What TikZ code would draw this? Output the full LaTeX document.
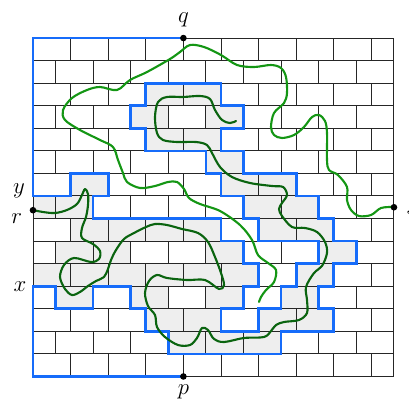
\documentclass[tikz,border=0pt]{standalone}
\usetikzlibrary{calc}
\definecolor{bndblue}{RGB}{22,108,250}
\definecolor{lgreen}{RGB}{20,150,20}
\definecolor{dgreen}{RGB}{10,100,15}
\definecolor{slabgrey}{RGB}{238,238,238}
\begin{document}
\begin{tikzpicture}[x=0.2cm, y=-0.6cm,
    joint/.style={draw=black!85, line width=0.75pt},
    slab/.style={fill=slabgrey},
    bound/.style={draw=bndblue, line width=2pt, line join=miter},
    walk/.style={line width=1.6pt, line cap=round, line join=round},
    pt/.style={circle, fill=black, inner sep=0pt, minimum size=5pt},
    lbl/.style={font=\fontsize{18}{20}\selectfont, inner sep=0pt},
]
\useasboundingbox (-4.388,-1.687) rectangle (50.0,16.04);
% grey bricks: row/left/right
\foreach \r/\a/\b in {2/15/25, 3/13/18, 3/23/28, 4/15/25, 5/23/28, 6/5/10,
    6/25/35, 7/0/8, 7/28/38, 8/5/25, 8/30/40, 9/3/13, 9/23/28, 9/38/43,
    10/0/30, 10/35/40, 11/3/8, 11/13/18, 11/23/28, 11/33/38, 12/15/25,
    12/30/40, 13/18/33}
  \fill[slab] (\a,\r) rectangle (\b,{\r+1});
% the wall
\foreach \r in {0,...,15}
  \draw[joint] (0,\r) -- (48,\r);
\draw[joint] (0,0) -- (0,15) (48,0) -- (48,15);
\foreach \r in {0,2,...,14}
  \foreach \x in {5,10,...,45}
    \draw[joint] (\x,\r) -- (\x,{\r+1});
\foreach \r in {1,3,...,13}
  \foreach \x in {3,8,...,43}
    \draw[joint] (\x,\r) -- (\x,{\r+1});
% boundary arc from q round to p
\draw[bound] (20,0) -- (0,0) -- (0,7) -- (5,7) -- (5,6) -- (10,6) -- (10,7)
  -- (8,7) -- (8,8) -- (25,8) -- (25,9) -- (28,9) -- (28,10) -- (30,10)
  -- (30,11) -- (28,11) -- (28,12) -- (25,12) -- (25,13) -- (30,13)
  -- (30,12) -- (33,12) -- (33,11) -- (35,11) -- (35,10) -- (38,10)
  -- (38,9) -- (30,9) -- (30,8) -- (28,8) -- (28,7) -- (25,7) -- (25,6)
  -- (23,6) -- (23,5) -- (15,5) -- (15,4) -- (13,4) -- (13,3) -- (15,3)
  -- (15,2) -- (25,2) -- (25,3) -- (28,3) -- (28,4) -- (25,4) -- (25,5)
  -- (28,5) -- (28,6) -- (35,6) -- (35,7) -- (38,7) -- (38,8) -- (40,8)
  -- (40,9) -- (43,9) -- (43,10) -- (40,10) -- (40,11) -- (38,11)
  -- (38,12) -- (40,12) -- (40,13) -- (33,13) -- (33,14) -- (18,14)
  -- (18,13) -- (15,13) -- (15,12) -- (13,12) -- (13,11) -- (8,11)
  -- (8,12) -- (3,12) -- (3,11) -- (0,11) -- (0,15) -- (20,15);
% the two paths, in pixel units
\begin{scope}[shift={(-4.388,-1.687)}, x=0.026596cm, y=-0.026596cm]
  \draw[walk, lgreen] plot[smooth, tension=0.55] coordinates {
    (393,207) (381,208) (371,215) (359,216) (351,210) (347,200) (347,187)
    (338,175) (329,170) (327,160) (327,133) (325,121) (319,115) (312,117)
    (304,127) (294,135) (282,138) (274,135) (271,127) (274,113) (284,103)
    (287,93) (286,77) (281,68) (271,65) (254,67) (237,65) (221,55) (204,47)
    (190,45) (180,52) (170,59) (147,72) (130,80) (117,90) (100,87) (87,90)
    (72,98) (63,110) (65,120) (80,130) (100,140) (113,147) (118,160)
    (123,173) (127,182) (140,188) (155,186) (168,182) (177,182) (184,189)
    (189,198) (200,204) (220,211) (240,225) (252,240) (258,255) (268,263)
    (276,270) (274,282) (266,290) (261,297) (259,302)};
  \draw[walk, dgreen] plot[smooth, tension=0.55] coordinates {
    (33,210) (43,212) (55,213) (67,210) (77,204) (82,195) (85,189) (88,194)
    (88,205) (86,217) (82,228) (82,238) (93,244) (100,251) (99,259) (91,262)
    (74,258) (64,265) (60,277) (65,289) (72,295) (80,292) (88,286) (96,281)
    (104,277) (108,269) (111,260) (116,250) (124,239) (134,233) (146,227)
    (155,224) (167,225) (182,229) (198,233) (208,242) (215,257) (221,273)
    (224,285) (219,289) (205,280) (187,280) (167,278) (157,275) (149,281)
    (145,293) (148,306) (155,315) (157,327) (165,337) (178,345) (190,345)
    (197,338) (202,328) (208,330) (214,339) (224,342) (244,338) (264,337)
    (271,331) (276,325) (284,322) (299,320) (307,313) (307,300) (306,287)
    (314,273) (322,266) (327,253) (325,242) (317,232) (305,228) (292,227)
    (282,216) (279,209) (282,203) (287,195) (283,187) (272,186) (250,183)
    (232,177) (220,167) (212,153) (207,145) (196,142) (177,142) (163,140)
    (157,133) (155,117) (158,102) (167,97) (183,97) (200,96) (210,99)
    (215,110) (222,120) (230,123) (236,121)};
\end{scope}
% marked points and labels
\coordinate (q) at (20,0);
\coordinate (p) at (20,15);
\coordinate (r) at (0,7.63);
\coordinate (s) at (48,7.5);
\foreach \c in {q,p,r,s}
  \node[pt] at (\c) {};
\node[lbl, anchor=base] (qlab) at (20,-0.71) {$q$};
\node[lbl, anchor=base] (plab) at (20,15.78) {$p$};
\node[lbl, anchor=base] (ylab) at (-1.86,6.9) {$y$};
\node[lbl, anchor=base] (rlab) at (-2.17,8.21) {$r$};
\node[lbl, anchor=base] (xlab) at (-1.73,11.23) {$x$};
\node[lbl, anchor=base west] (slab) at (49.6,7.8) {$s$};
\end{tikzpicture}
\end{document}
